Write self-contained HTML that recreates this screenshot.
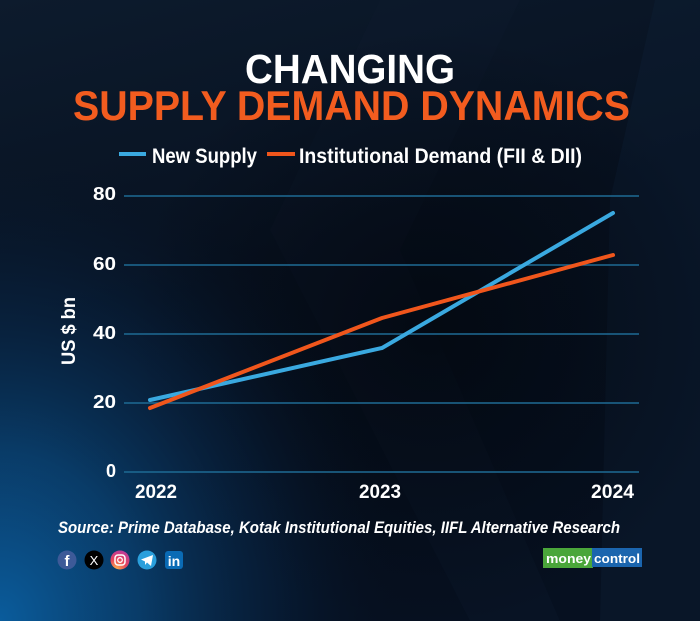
<!DOCTYPE html>
<html>
<head>
<meta charset="utf-8">
<style>
html,body{margin:0;padding:0;background:#07111f;}
svg{display:block;}
</style>
</head>
<body>
<svg width="700" height="621" viewBox="0 0 700 621" xmlns="http://www.w3.org/2000/svg">
<defs>
<linearGradient id="base" x1="0" y1="0" x2="0.3" y2="1">
<stop offset="0" stop-color="#0d1b2d"/>
<stop offset="0.5" stop-color="#071120"/>
<stop offset="1" stop-color="#061020"/>
</linearGradient>
<radialGradient id="glow" cx="0" cy="0" r="1" gradientUnits="userSpaceOnUse" gradientTransform="translate(0,621) scale(400,480)">
<stop offset="0" stop-color="#0a5c9c" stop-opacity="1"/>
<stop offset="0.35" stop-color="#0a4a80" stop-opacity="0.75"/>
<stop offset="0.7" stop-color="#082d54" stop-opacity="0.35"/>
<stop offset="1" stop-color="#061020" stop-opacity="0"/>
</radialGradient>
<radialGradient id="dark" cx="430" cy="330" r="300" gradientUnits="userSpaceOnUse">
<stop offset="0" stop-color="#02060c" stop-opacity="0.7"/>
<stop offset="1" stop-color="#02060c" stop-opacity="0"/>
</radialGradient>
<radialGradient id="ig" cx="0.3" cy="1" r="1.1">
<stop offset="0" stop-color="#fdb24a"/>
<stop offset="0.5" stop-color="#e8455c"/>
<stop offset="1" stop-color="#b53aa5"/>
</radialGradient>
</defs>

<rect width="700" height="621" fill="url(#base)"/>
<polygon points="655,0 700,0 700,621 600,621 610,200" fill="#12243a" opacity="0.3"/>
<polygon points="270,230 380,0 520,0 400,250 560,621 470,621" fill="#0e1d30" opacity="0.25"/>
<rect width="700" height="621" fill="url(#dark)"/>
<rect width="700" height="621" fill="url(#glow)"/>

<!-- Title -->
<text x="245" y="83" font-family="Liberation Sans, sans-serif" font-weight="bold" font-size="41" fill="#ffffff" textLength="210" lengthAdjust="spacingAndGlyphs">CHANGING</text>
<text x="73" y="120" font-family="Liberation Sans, sans-serif" font-weight="bold" font-size="42" fill="#f25c1f" textLength="557" lengthAdjust="spacingAndGlyphs">SUPPLY DEMAND DYNAMICS</text>

<!-- Legend -->
<line x1="119" y1="154" x2="146" y2="154" stroke="#3aa9e0" stroke-width="4"/>
<text x="152" y="163" font-family="Liberation Sans, sans-serif" font-weight="bold" font-size="21" fill="#ffffff" textLength="105" lengthAdjust="spacingAndGlyphs">New Supply</text>
<line x1="267" y1="154" x2="295" y2="154" stroke="#f0561c" stroke-width="4"/>
<text x="299" y="163" font-family="Liberation Sans, sans-serif" font-weight="bold" font-size="21" fill="#ffffff" textLength="283" lengthAdjust="spacingAndGlyphs">Institutional Demand (FII &amp; DII)</text>

<!-- Grid -->
<g stroke="#1e6b94" stroke-width="1.5">
<line x1="124" y1="196" x2="639" y2="196"/>
<line x1="124" y1="265" x2="639" y2="265"/>
<line x1="124" y1="334" x2="639" y2="334"/>
<line x1="124" y1="403" x2="639" y2="403"/>
<line x1="124" y1="472" x2="639" y2="472"/>
</g>

<!-- Y labels -->
<g font-family="Liberation Sans, sans-serif" font-weight="bold" font-size="18" fill="#ffffff" text-anchor="end">
<text x="116" y="200" textLength="23" lengthAdjust="spacingAndGlyphs">80</text>
<text x="116" y="270" textLength="23" lengthAdjust="spacingAndGlyphs">60</text>
<text x="116" y="339" textLength="23" lengthAdjust="spacingAndGlyphs">40</text>
<text x="116" y="408" textLength="23" lengthAdjust="spacingAndGlyphs">20</text>
<text x="116" y="477">0</text>
</g>
<text transform="translate(75,331) rotate(-90)" text-anchor="middle" font-family="Liberation Sans, sans-serif" font-weight="bold" font-size="19" fill="#ffffff" textLength="68" lengthAdjust="spacingAndGlyphs">US $ bn</text>

<!-- X labels -->
<g font-family="Liberation Sans, sans-serif" font-weight="bold" font-size="19" fill="#ffffff">
<text x="135" y="498" textLength="42" lengthAdjust="spacingAndGlyphs">2022</text>
<text x="359" y="498" textLength="42" lengthAdjust="spacingAndGlyphs">2023</text>
<text x="591" y="498" textLength="43" lengthAdjust="spacingAndGlyphs">2024</text>
</g>

<!-- Series -->
<polyline points="150,400 382,348 613,213" fill="none" stroke="#3aa9e0" stroke-width="4" stroke-linecap="round" stroke-linejoin="round"/>
<polyline points="150,408 382,318 613,255" fill="none" stroke="#f0561c" stroke-width="4" stroke-linecap="round" stroke-linejoin="round"/>

<!-- Source -->
<text x="58" y="533" font-family="Liberation Sans, sans-serif" font-weight="bold" font-style="italic" font-size="17" fill="#ffffff" textLength="562" lengthAdjust="spacingAndGlyphs">Source: Prime Database, Kotak Institutional Equities, IIFL Alternative Research</text>

<!-- Social icons -->
<circle cx="67" cy="560" r="9.5" fill="#3d5a98"/>
<text x="67" y="566" text-anchor="middle" font-family="Liberation Sans, sans-serif" font-weight="bold" font-size="15" fill="#ffffff">f</text>
<circle cx="94" cy="560" r="9.5" fill="#000000"/>
<text x="94" y="565" text-anchor="middle" font-family="Liberation Sans, sans-serif" font-size="13" fill="#ffffff">X</text>
<circle cx="120" cy="560" r="9.5" fill="url(#ig)"/>
<rect x="115" y="555" width="10" height="10" rx="3" fill="none" stroke="#ffffff" stroke-width="1.5"/>
<circle cx="120" cy="560" r="2.3" fill="none" stroke="#ffffff" stroke-width="1.3"/>
<circle cx="147" cy="560" r="9.5" fill="#2a9fdc"/>
<polygon points="141,559.5 153,555 151,566 147,562.5 145,565 145,561.5" fill="#ffffff"/>
<rect x="165" y="551" width="18" height="18" rx="3" fill="#0a6bb5"/>
<text x="174" y="566" text-anchor="middle" font-family="Liberation Sans, sans-serif" font-weight="bold" font-size="14" fill="#ffffff">in</text>

<!-- moneycontrol logo -->
<rect x="543" y="548" width="50" height="20" fill="#4aa63a"/>
<rect x="592" y="548" width="50" height="19" fill="#1b65ae"/>
<text x="546" y="563" font-family="Liberation Sans, sans-serif" font-weight="bold" font-size="13" fill="#ffffff" textLength="45" lengthAdjust="spacingAndGlyphs">money</text>
<text x="594" y="563" font-family="Liberation Sans, sans-serif" font-weight="bold" font-size="13" fill="#ffffff" textLength="46" lengthAdjust="spacingAndGlyphs">control</text>
</svg>
</body>
</html>
